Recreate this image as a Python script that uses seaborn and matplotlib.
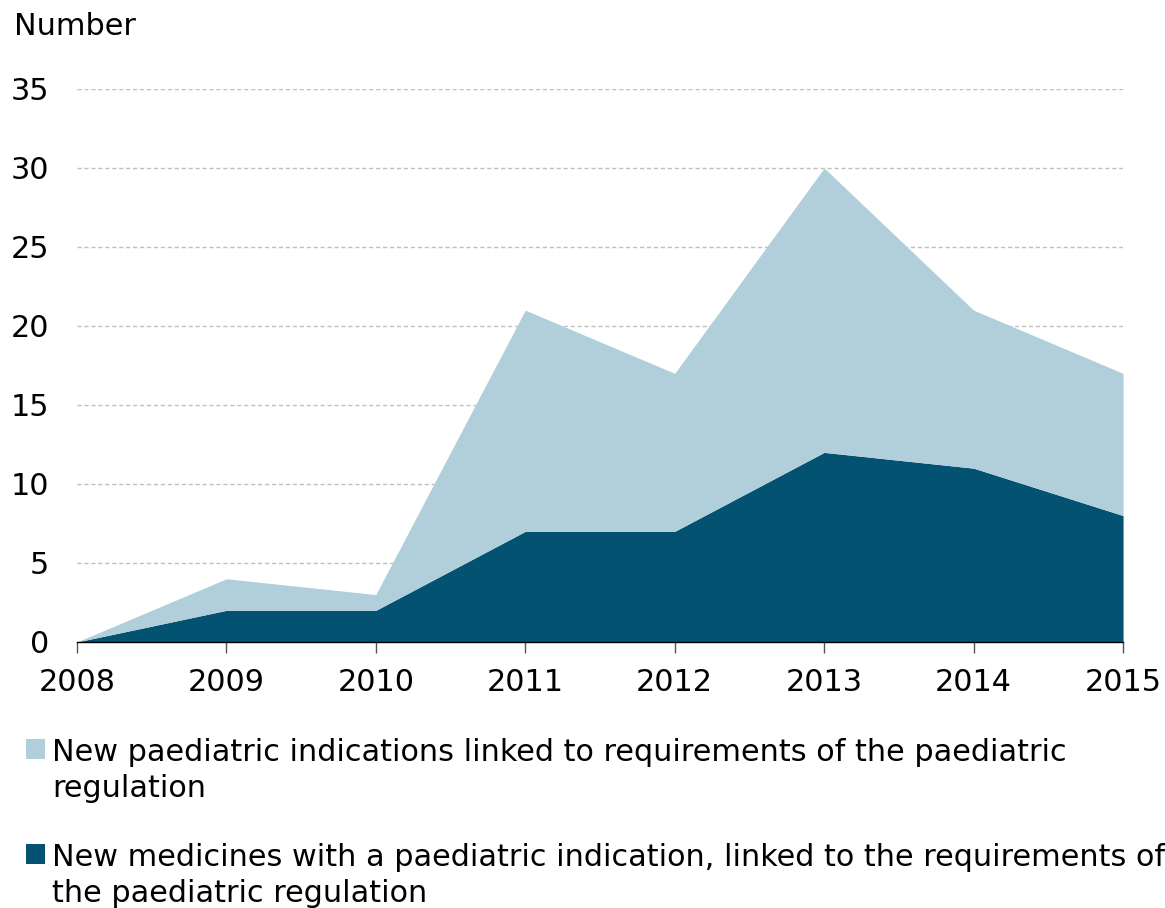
import numpy as np
import pandas as pd
import seaborn as sns
import matplotlib.pyplot as plt
from matplotlib.patches import Rectangle

years = [2008, 2009, 2010, 2011, 2012, 2013, 2014, 2015]
new_medicines = [0, 2, 2, 7, 7, 12, 11, 8]
new_indications = [0, 2, 1, 14, 10, 18, 10, 9]
series_labels = ['New paediatric indications linked to requirements of the paediatric\nregulation',
                 'New medicines with a paediatric indication, linked to the requirements of\nthe paediatric regulation']
colors = ['#b0cfda', '#035271']

df = pd.DataFrame({'year': years, 'medicines': new_medicines, 'indications': new_indications})

sns.set_theme(style="white")
plt.rcParams['font.family'] = ['DejaVu Sans']
plt.rcParams['text.color'] = 'black'
plt.rcParams['xtick.color'] = 'black'
plt.rcParams['ytick.color'] = 'black'

fs = 21.8
fig = plt.figure(figsize=(11.65, 9.08), dpi=100)
ax = fig.add_axes([0.066, 0.293, 0.898, 0.609])

# stacked area: dark at bottom, light on top
ax.stackplot(df['year'], df['medicines'], df['indications'], colors=[colors[1], colors[0]], linewidth=0)

ax.set_xlim(2008, 2015)
ax.set_ylim(0, 35)
ax.set_yticks(np.arange(0, 36, 5))
ax.set_xticks(years)
ax.yaxis.grid(True, linestyle=(0, (3, 2)), color='#c0c0c0', linewidth=1)
ax.set_axisbelow(True)
for s in ['top', 'right', 'left']:
    ax.spines[s].set_visible(False)
ax.spines['bottom'].set_color('black')
ax.spines['bottom'].set_linewidth(1)
ax.tick_params(axis='x', bottom=True, length=8, width=1, color='#555555', labelsize=fs, pad=11)
ax.tick_params(axis='y', left=False, labelsize=fs, pad=14)
ax.set_xlabel('')
ax.set_ylabel('')

fig.text(0.012, 0.971, 'Number', fontsize=fs, va='center', ha='left')

# legend drawn by hand
leg_y = [0.172, 0.057]
for lbl, c, yy in zip(series_labels, colors, leg_y):
    fig.patches.append(Rectangle((0.022, yy - 0.008), 0.017, 0.022, transform=fig.transFigure,
                                 facecolor=c, edgecolor='none'))
    fig.text(0.045, yy + 0.015, lbl, fontsize=fs, va='top', ha='left', linespacing=1.3)

fig.savefig('out.png', dpi=100)
